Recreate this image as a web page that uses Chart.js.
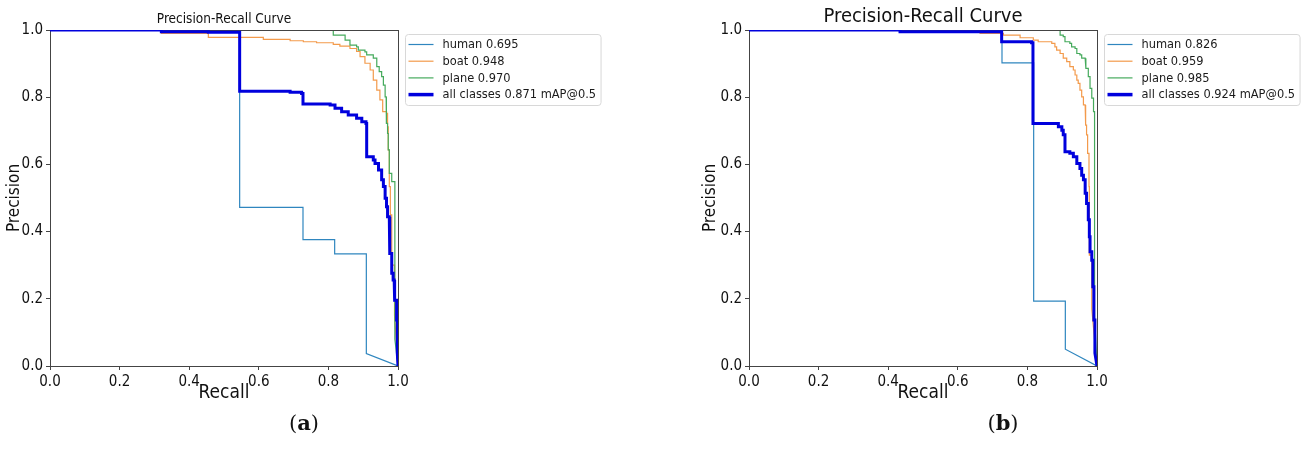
<!DOCTYPE html>
<html>
<head>
<meta charset="utf-8">
<script src="https://cdn.jsdelivr.net/npm/chart.js@4.4.1/dist/chart.umd.min.js"></script>
<style>
  body { margin: 0; background: #fff; width: 1308px; height: 450px; position: relative; overflow: hidden; }
  canvas { position: absolute; top: 0; }
  #chartA { left: 0; }
  #chartB { left: 654px; }
  .caption { position: absolute; top: 410px; font-family: 'DejaVu Serif', serif; font-size: 21px; color: #111; transform: translateX(-50%); }
</style>
</head>
<body>
<canvas id="chartA" width="654" height="450"></canvas>
<canvas id="chartB" width="654" height="450"></canvas>
<div class="caption" style="left:304px">(<b>a</b>)</div>
<div class="caption" style="left:1003px">(<b>b</b>)</div>
<script>
// labels / values
const classNames = ['human', 'boat', 'plane'];
const apA = [0.695, 0.948, 0.970];
const apB = [0.826, 0.959, 0.985];
const mapA = 0.871;
const mapB = 0.924;
const tickStep = 0.2;

// (a) curves - recall / precision
const humanRecallA = [0, 0.545, 0.545, 0.727, 0.727, 0.818, 0.818, 0.909, 0.909, 1.0];
const humanPrecA   = [1, 1, 0.472, 0.472, 0.376, 0.376, 0.334, 0.334, 0.037, 0];

const boatRecallA = [0, 0.32, 0.32, 0.455, 0.455, 0.613, 0.613, 0.69, 0.728, 0.766, 0.814, 0.833, 0.862, 0.881, 0.891, 0.905, 0.920, 0.929, 0.939, 0.948, 0.956, 0.967, 0.970, 0.972, 0.975, 0.978, 0.982, 0.990, 1.0];
const boatPrecA   = [1, 1, 0.99, 0.99, 0.978, 0.978, 0.972, 0.968, 0.965, 0.962, 0.957, 0.952, 0.945, 0.936, 0.921, 0.901, 0.881, 0.851, 0.821, 0.792, 0.757, 0.752, 0.712, 0.643, 0.534, 0.45, 0.3, 0.15, 0];

const planeRecallA = [0, 0.814, 0.814, 0.824, 0.848, 0.848, 0.862, 0.862, 0.881, 0.886, 0.905, 0.910, 0.929, 0.939, 0.946, 0.953, 0.958, 0.963, 0.966, 0.967, 0.970, 0.972, 0.975, 0.982, 0.991, 0.991, 1.0];
const planePrecA   = [1, 1, 0.985, 0.985, 0.985, 0.970, 0.970, 0.955, 0.950, 0.940, 0.935, 0.926, 0.916, 0.891, 0.876, 0.861, 0.836, 0.801, 0.762, 0.722, 0.692, 0.643, 0.573, 0.549, 0.544, 0.08, 0];

const allRecallA = [0, 0.32, 0.32, 0.455, 0.455, 0.545, 0.545, 0.69, 0.723, 0.727, 0.727, 0.805, 0.819, 0.838, 0.857, 0.881, 0.896, 0.908, 0.910, 0.910, 0.929, 0.934, 0.944, 0.953, 0.958, 0.963, 0.967, 0.970, 0.975, 0.977, 0.982, 0.986, 0.989, 0.991, 0.996, 0.998, 1.0];
const allPrecA   = [1, 1, 0.995, 0.995, 0.993, 0.993, 0.818, 0.815, 0.811, 0.811, 0.780, 0.777, 0.767, 0.757, 0.747, 0.737, 0.727, 0.722, 0.720, 0.623, 0.613, 0.603, 0.583, 0.554, 0.534, 0.499, 0.474, 0.444, 0.405, 0.335, 0.276, 0.256, 0.236, 0.196, 0.137, 0.038, 0];

// (b) curves
const humanRecallB = [0, 0.727, 0.727, 0.818, 0.818, 0.909, 0.909, 1.0];
const humanPrecB   = [1, 1, 0.902, 0.902, 0.193, 0.193, 0.05, 0];

const boatRecallB = [0, 0.664, 0.664, 0.726, 0.731, 0.774, 0.779, 0.812, 0.817, 0.827, 0.831, 0.870, 0.879, 0.884, 0.894, 0.903, 0.913, 0.922, 0.932, 0.937, 0.942, 0.946, 0.951, 0.956, 0.961, 0.966, 0.968, 0.970, 0.973, 0.977, 0.978, 0.978, 0.985, 1.0];
const boatPrecB   = [1, 1, 0.99, 0.99, 0.985, 0.985, 0.977, 0.977, 0.970, 0.970, 0.965, 0.960, 0.950, 0.940, 0.930, 0.916, 0.906, 0.891, 0.881, 0.866, 0.851, 0.841, 0.821, 0.801, 0.777, 0.747, 0.717, 0.688, 0.633, 0.534, 0.45, 0.33, 0.17, 0];

const planeRecallB = [0, 0.884, 0.894, 0.903, 0.908, 0.922, 0.927, 0.937, 0.942, 0.951, 0.956, 0.966, 0.968, 0.975, 0.980, 0.985, 0.990, 0.993, 0.993, 1.0];
const planePrecB   = [1, 1, 0.985, 0.980, 0.965, 0.960, 0.950, 0.945, 0.930, 0.926, 0.916, 0.916, 0.886, 0.861, 0.826, 0.797, 0.757, 0.75, 0.15, 0];

const allRecallB = [0, 0.434, 0.434, 0.726, 0.726, 0.812, 0.816, 0.816, 0.875, 0.889, 0.899, 0.903, 0.908, 0.922, 0.932, 0.942, 0.951, 0.956, 0.961, 0.966, 0.970, 0.975, 0.978, 0.980, 0.985, 0.988, 0.991, 0.994, 1.0];
const allPrecB   = [1, 1, 0.995, 0.995, 0.965, 0.962, 0.962, 0.722, 0.722, 0.712, 0.702, 0.688, 0.638, 0.633, 0.623, 0.603, 0.588, 0.568, 0.554, 0.514, 0.484, 0.435, 0.385, 0.340, 0.315, 0.236, 0.137, 0.038, 0];

const lineColors = ['#2f86bf', '#f39a4b', '#45aa5c', '#0000dd'];
const lineWidths = [1.2, 1.2, 1.2, 3];
const FONT = "'DejaVu Sans Condensed', 'DejaVu Sans', sans-serif";

// the curves are staircases: hold precision, then drop (last segment stays straight)
function toSteps(rs, ps) {
    const pts = [];
    for (let i = 0; i < rs.length; i++) {
        pts.push({ x: rs[i], y: ps[i] });
        if (i < rs.length - 2 && rs[i + 1] !== rs[i] && ps[i + 1] !== ps[i]) {
            pts.push({ x: rs[i + 1], y: ps[i] });
        }
    }
    return pts;
}

// frame under the lines, title and legend box on top
const prDeco = {
    id: 'prDeco',
    beforeDatasetsDraw(chart) {
        const ctx = chart.ctx;
        const a = chart.chartArea;
        ctx.save();
        ctx.strokeStyle = '#444';
        ctx.lineWidth = 1;
        ctx.strokeRect(Math.round(a.left) + 0.5, Math.round(a.top) + 0.5, Math.round(a.right - a.left), Math.round(a.bottom - a.top));
        ctx.restore();
    },
    afterDatasetsDraw(chart, args, opts) {
        const ctx = chart.ctx;
        const a = chart.chartArea;
        ctx.save();
        ctx.fillStyle = '#111';
        ctx.font = opts.titleSize + 'px ' + FONT;
        ctx.textAlign = 'center';
        ctx.textBaseline = 'middle';
        ctx.fillText(opts.title, (a.left + a.right) / 2, a.top - opts.titleGap);

        ctx.font = '12.7px ' + FONT;
        const widths = opts.labels.map(t => ctx.measureText(t).width);
        const bx = a.right + 7.5, by = a.top + 4.5;
        const bw = 37 + Math.max(...widths) + 5, bh = 71;
        ctx.beginPath();
        ctx.roundRect(bx, by, bw, bh, 3);
        ctx.fillStyle = '#fff';
        ctx.fill();
        ctx.strokeStyle = '#d8d8d8';
        ctx.lineWidth = 1;
        ctx.stroke();
        ctx.textAlign = 'left';
        opts.labels.forEach((t, i) => {
            const y = by + 10 + i * 16.7;
            ctx.beginPath();
            ctx.moveTo(bx + 3, y);
            ctx.lineTo(bx + 28, y);
            ctx.strokeStyle = lineColors[i];
            ctx.lineWidth = i == 3 ? 3.5 : 1.2;
            ctx.stroke();
            ctx.fillStyle = '#1a1a1a';
            ctx.fillText(t, bx + 37, y + 0.5);
        });
        ctx.restore();
    }
};

function makeChart(id, series, ap, map, cfg) {
    const names = ['human', 'boat', 'plane', 'all'];
    const datasets = series.map((s, i) => ({
        label: names[i],
        data: toSteps(s[0], s[1]),
        borderColor: lineColors[i],
        borderWidth: lineWidths[i],
        pointRadius: 0,
        tension: 0,
        fill: false,
        // thin class lines sitting on p=1 hide under the frame, the thick one shows
        clip: i == 3 ? { left: 0, top: 0, right: 0, bottom: 0 } : { left: 0, top: -1, right: 0, bottom: 0 },
        order: 3 - i
    }));
    const labels = classNames.map((c, i) => c + ' ' + ap[i].toFixed(3));
    labels.push('all classes ' + map.toFixed(3) + ' mAP@0.5');

    return new Chart(document.getElementById(id).getContext('2d'), {
        type: 'line',
        data: { datasets: datasets },
        plugins: [prDeco],
        options: {
            responsive: false,
            animation: false,
            events: [],
            layout: { padding: { left: cfg.padLeft, right: cfg.padRight, top: 30, bottom: 46 } },
            plugins: {
                legend: { display: false },
                tooltip: { enabled: false },
                prDeco: { title: 'Precision-Recall Curve', titleSize: cfg.titleSize, titleGap: cfg.titleGap, labels: labels }
            },
            scales: {
                x: {
                    type: 'linear', min: 0, max: 1,
                    ticks: { stepSize: tickStep, callback: v => v.toFixed(1), font: { family: FONT, size: 15 }, color: '#111', padding: 3, maxRotation: 0, autoSkip: false },
                    grid: { display: true, drawOnChartArea: false, drawTicks: true, tickLength: 4, color: '#444' },
                    border: { display: false },
                    title: { display: true, text: 'Recall', font: { family: FONT, size: 19 }, color: '#111', padding: { top: 0, bottom: 0 } },
                    afterFit(s) { s.height = 38; }
                },
                y: {
                    type: 'linear', min: 0, max: 1,
                    ticks: { stepSize: tickStep, callback: v => v.toFixed(1), font: { family: FONT, size: 15 }, color: '#111', padding: 3 },
                    grid: { display: true, drawOnChartArea: false, drawTicks: true, tickLength: 4, color: '#444' },
                    border: { display: false },
                    title: { display: true, text: 'Precision', font: { family: FONT, size: 17 }, color: '#111', padding: { top: cfg.yTitlePad, bottom: 0 } },
                    afterFit(s) { s.width = 50; }
                }
            }
        }
    });
}

makeChart('chartA', [
    [humanRecallA, humanPrecA],
    [boatRecallA, boatPrecA],
    [planeRecallA, planePrecA],
    [allRecallA, allPrecA]
], apA, mapA, { padLeft: 0, padRight: 256, titleSize: 13.5, titleGap: 11, yTitlePad: 4 });

makeChart('chartB', [
    [humanRecallB, humanPrecB],
    [boatRecallB, boatPrecB],
    [planeRecallB, planePrecB],
    [allRecallB, allPrecB]
], apB, mapB, { padLeft: 45, padRight: 211, titleSize: 20, titleGap: 13, yTitlePad: 1 });
</script>
</body>
</html>
